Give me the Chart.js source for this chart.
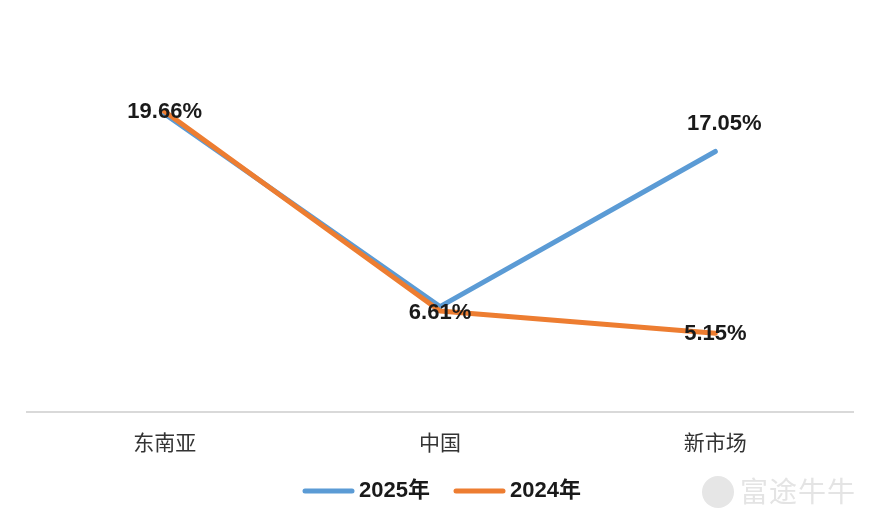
<!DOCTYPE html>
<html>
<head>
<meta charset="utf-8">
<script src="https://cdn.jsdelivr.net/npm/chart.js@4.4.0/dist/chart.umd.min.js"></script>
<style>
  html, body { margin: 0; padding: 0; background: #fff; }
  #wrap { position: relative; width: 880px; height: 528px; }
  #mark { position: absolute; left: 702px; top: 470px; font: 28px "Noto Sans CJK SC", sans-serif; color: #e4e4e4; letter-spacing: 1px; }
  #mark span { display: inline-block; width: 32px; height: 32px; border-radius: 50%; background: #e6e6e6; vertical-align: -6px; margin-right: 6px; }
</style>
</head>
<body>
<div id="wrap">
  <canvas id="chart" width="880" height="528"></canvas>
  <div id="mark"><span></span>富途牛牛</div>
</div>
<script>
const categories = ['东南亚', '中国', '新市场'];
const values2025 = [19.5, 6.9, 17.05];
const values2024 = [19.66, 6.61, 5.15];
const seriesNames = ['2025年', '2024年'];
const colors = ['#5b9bd5', '#ed7d31'];

// which value gets a label, and where it sits relative to the point
const labelSpots = [
  { ds: 1, i: 0, dx: 0, dy: 0 },
  { ds: 1, i: 1, dx: 0, dy: 2 },
  { ds: 0, i: 2, dx: 9, dy: -28 },
  { ds: 1, i: 2, dx: 0, dy: 1 },
];

const valueLabels = {
  id: 'valueLabels',
  afterDatasetsDraw(chart) {
    const ctx = chart.ctx;
    ctx.save();
    ctx.font = 'bold 22px "Liberation Sans", Arial, sans-serif';
    ctx.fillStyle = '#1a1a1a';
    ctx.textAlign = 'center';
    ctx.textBaseline = 'middle';
    labelSpots.forEach(s => {
      const pt = chart.getDatasetMeta(s.ds).data[s.i];
      const v = chart.data.datasets[s.ds].data[s.i];
      ctx.fillText(v.toFixed(2) + '%', pt.x + s.dx, pt.y + s.dy);
    });
    ctx.restore();
  }
};

const lineLegend = {
  id: 'lineLegend',
  afterDraw(chart) {
    const ctx = chart.ctx;
    ctx.save();
    ctx.font = 'bold 22px "Liberation Sans", Arial, "Noto Sans CJK SC", sans-serif';
    ctx.textBaseline = 'middle';
    const y = 491;
    let x = 305;
    seriesNames.forEach((name, k) => {
      ctx.strokeStyle = colors[k];
      ctx.lineWidth = 5;
      ctx.lineCap = 'round';
      ctx.beginPath();
      ctx.moveTo(x, y);
      ctx.lineTo(x + 47, y);
      ctx.stroke();
      ctx.fillStyle = '#1a1a1a';
      ctx.fillText(name, x + 54, y);
      x += 151;
    });
    ctx.restore();
  }
};

new Chart(document.getElementById('chart'), {
  type: 'line',
  data: {
    labels: categories,
    datasets: [
      { label: seriesNames[0], data: values2025, borderColor: colors[0], order: 1 },
      { label: seriesNames[1], data: values2024, borderColor: colors[1], order: 0 },
    ],
  },
  options: {
    responsive: false,
    animation: false,
    layout: { padding: { left: 27, right: 27, top: 30, bottom: 0 } },
    elements: {
      line: { borderWidth: 5, tension: 0, borderCapStyle: 'round', borderJoinStyle: 'round' },
      point: { radius: 0 },
    },
    plugins: { legend: { display: false }, tooltip: { enabled: false } },
    scales: {
      x: {
        offset: true,
        grid: { display: false },
        border: { display: true, color: '#d9d9d9', width: 2 },
        ticks: { color: '#333', padding: 9, font: { size: 21, family: '"Noto Sans CJK SC", sans-serif' } },
        afterFit(scale) { scale.height = 116; },
      },
      y: { display: false, min: 0, max: 25 },
    },
  },
  plugins: [valueLabels, lineLegend],
});
</script>
</body>
</html>
